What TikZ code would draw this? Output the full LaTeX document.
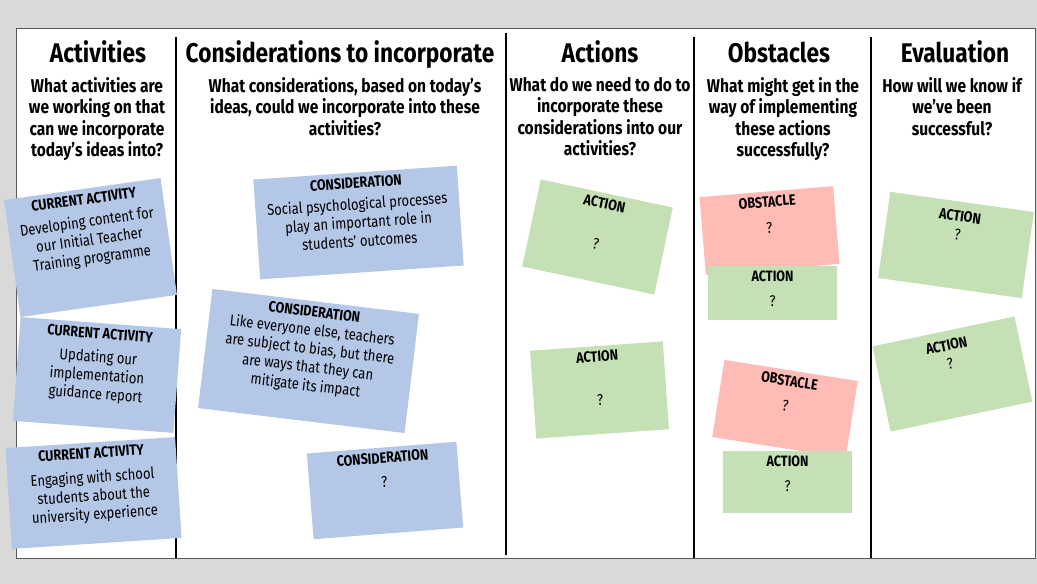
\documentclass[tikz,border=0pt]{standalone}
\usepackage{fontspec}
\newfontfamily\hand[FakeStretch=0.84]{Fira Sans}
\definecolor{boardgrey}{HTML}{D9D9D9}
\definecolor{noteblue}{HTML}{B4C7E7}
\definecolor{notegreen}{HTML}{C5E0B4}
\definecolor{notered}{HTML}{FFBBB6}
\newcommand\notehead[1]{{\bfseries\fontsize{15}{17}\selectfont #1}}
\begin{document}
\begin{tikzpicture}[x=1pt,y=-1pt,
  title/.style={font=\hand\bfseries\fontsize{27}{30}\selectfont,inner sep=0pt,anchor=base},
  question/.style={font=\hand\bfseries\fontsize{18.5}{21.5}\selectfont,align=center,inner sep=0pt,anchor=north},
  sticky/.style={fill=#1,inner sep=0pt},
  stickytext/.style={font=\hand\fontsize{15.5}{18.5}\selectfont,align=center,inner xsep=0pt,inner ysep=5pt,anchor=north}]
\useasboundingbox (0,0) rectangle (1037,584);
\fill[boardgrey] (0,0) rectangle (1037,584);
\draw[fill=white,draw=black!65,line width=0.8pt] (16,28) rectangle (1035,558);
% column rules
\draw[line width=2pt] (176,37) -- (176,558);
\draw[line width=2pt] (505.5,33) -- (505.5,555);
\draw[line width=2pt] (693.5,37) -- (693.5,558);
\draw[line width=2pt] (871,37) -- (871,558);
% column titles
\node[title] (hact) at (98,62) {Activities};
\node[title] (hcon) at (340,62) {Considerations to incorporate};
\node[title] (hacn) at (600,62) {Actions};
\node[title] (hobs) at (779,62) {Obstacles};
\node[title] (heva) at (955,62) {Evaluation};
\node[question] (qact) at (97,77) {What activities are\\we working on that\\can we incorporate\\today’s ideas into?};
\node[question] (qcon) at (345,77) {What considerations, based on today’s\\ideas, could we incorporate into these\\activities?};
\node[question] (qacn) at (600,77) {What do we need to do to\\incorporate these\\considerations into our\\activities?};
\node[question] (qobs) at (783,77) {What might get in the\\way of implementing\\these actions\\successfully?};
\node[question] (qeva) at (952,77) {How will we know if\\we’ve been\\successful?};
% current activities
\node[sticky=noteblue,minimum width=158,minimum height=118,rotate=8] (ca1) at (90.5,247.5) {};
\node[stickytext,rotate=8] (ca1t) at (ca1.north) {\notehead{CURRENT ACTIVITY}\\[4pt]Developing content for\\our Initial Teacher\\Training programme};
\node[sticky=noteblue,minimum width=161,minimum height=104,rotate=-4.3] (ca2) at (97,375) {};
\node[stickytext,rotate=-4.3] (ca2t) at (ca2.north) {\notehead{CURRENT ACTIVITY}\\[5pt]Updating our\\implementation\\guidance report};
\node[sticky=noteblue,minimum width=170,minimum height=101,rotate=3.7] (ca3) at (93.5,493) {};
\node[stickytext,rotate=3.7] (ca3t) at (ca3.north) {\notehead{CURRENT ACTIVITY}\\[6pt]Engaging with school\\students about the\\university experience};
% considerations
\node[sticky=noteblue,minimum width=204,minimum height=100,rotate=3.9] (co1) at (358.5,222.5) {};
\node[stickytext,rotate=3.9] (co1t) at (co1.north) {\notehead{CONSIDERATION}\\[3pt]Social psychological processes\\play an important role in\\students’ outcomes};
\node[sticky=noteblue,minimum width=208,minimum height=120,rotate=-6.9] (co2) at (308.5,361) {};
\node[stickytext,rotate=-6.9] (co2t) at (co2.north) {\notehead{CONSIDERATION}\\Like everyone else, teachers\\are subject to bias, but there\\are ways that they can\\mitigate its impact};
\node[sticky=noteblue,minimum width=150,minimum height=86,rotate=4.5] (co3) at (385,490.5) {};
\node[stickytext,rotate=4.5] (co3t) at (co3.north) {\notehead{CONSIDERATION}\\[6pt]?};
% actions
\node[sticky=notegreen,minimum width=135,minimum height=89,rotate=-12] (ac1) at (597.5,237) {};
\node[stickytext,rotate=-12] (ac1t) at (ac1.north) {\notehead{ACTION}\\[23pt]?};
\node[sticky=notegreen,minimum width=133,minimum height=88,rotate=4] (ac2) at (599.5,390) {};
\node[stickytext,rotate=4] (ac2t) at (ac2.north) {\notehead{ACTION}\\[25pt]?};
% obstacles
\node[sticky=notered,minimum width=134,minimum height=78,rotate=4.7] (ob1) at (769.5,230.5) {};
\node[stickytext,rotate=4.7] (ob1t) at (ob1.north) {\notehead{OBSTACLE}\\[8pt]?};
\node[sticky=notegreen,minimum width=129,minimum height=54] (oa1) at (772.5,293) {};
\node[stickytext] (oa1t) at (oa1.north) {\notehead{ACTION}\\[6pt]?};
\node[sticky=notered,minimum width=135,minimum height=78,rotate=-9] (ob2) at (785,409) {};
\node[stickytext,rotate=-9] (ob2t) at (ob2.north) {\notehead{OBSTACLE}\\[7pt]?};
\node[sticky=notegreen,minimum width=129,minimum height=62] (oa2) at (787.5,482) {};
\node[stickytext] (oa2t) at (oa2.north) {\notehead{ACTION}\\[6pt]?};
% evaluation
\node[sticky=notegreen,minimum width=145,minimum height=87,rotate=-8] (ev1) at (956,245) {};
\node[stickytext,inner ysep=9pt,rotate=-8] (ev1t) at (ev1.north) {\notehead{ACTION}\\[0pt]?};
\node[sticky=notegreen,minimum width=145,minimum height=87,rotate=11.9] (ev2) at (952.5,374) {};
\node[stickytext,inner ysep=9pt,rotate=11.9] (ev2t) at (ev2.north) {\notehead{ACTION}\\[0pt]?};
\end{tikzpicture}
\end{document}
